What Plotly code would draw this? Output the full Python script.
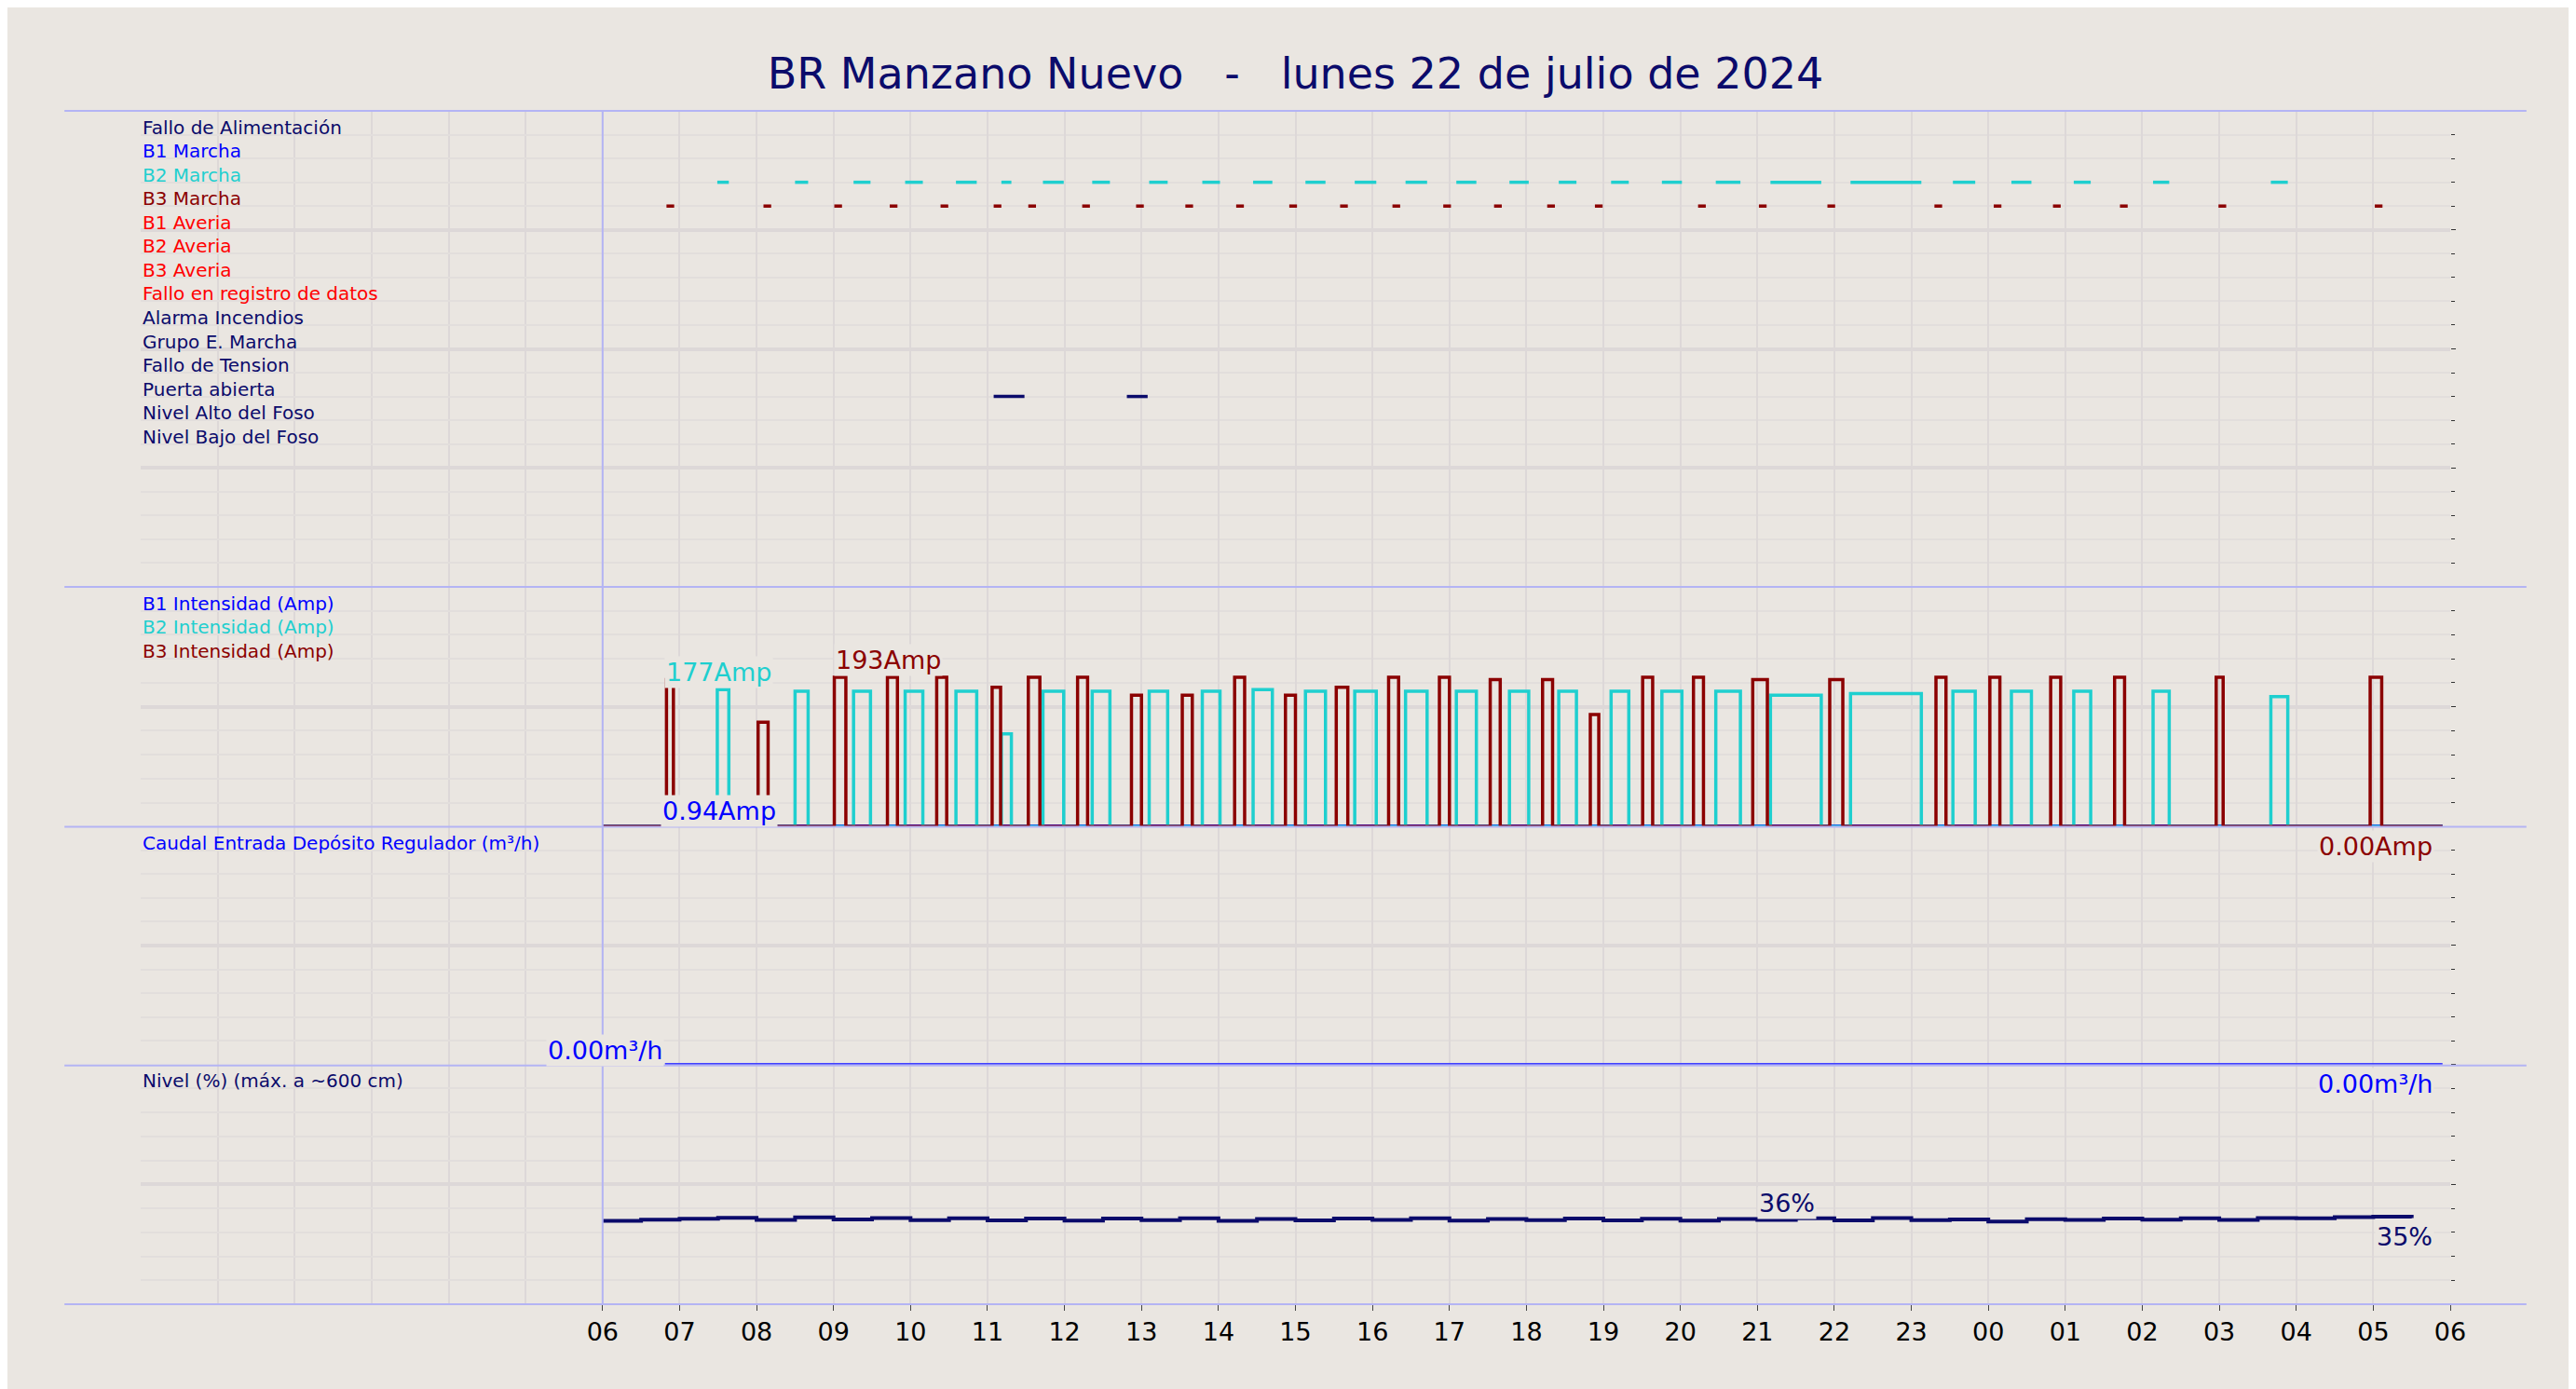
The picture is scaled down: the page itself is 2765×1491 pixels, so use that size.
import plotly.graph_objects as go
from plotly.subplots import make_subplots

NAVY = "#0B0B6B"
CYAN = "#1FCFCF"
DRED = "#8B0000"
BLUE = "#0000FF"
RED = "#FF0000"
BG = "#EAE6E1"

# senales digitales (horas desde las 00:00 del dia 22)
senales = ["Fallo de Alimentación", "B1 Marcha", "B2 Marcha", "B3 Marcha", "B1 Averia",
           "B2 Averia", "B3 Averia", "Fallo en registro de datos", "Alarma Incendios",
           "Grupo E. Marcha", "Fallo de Tension", "Puerta abierta", "Nivel Alto del Foso",
           "Nivel Bajo del Foso"]
colores_senal = [NAVY, BLUE, CYAN, DRED, RED, RED, RED, RED, NAVY, NAVY, NAVY, NAVY, NAVY, NAVY]

b2_on = [7.49, 8.50, 9.26, 9.93, 10.59, 11.18, 11.72, 12.36, 13.10, 13.79, 14.45, 15.13, 15.77,
         16.43, 17.09, 17.78, 18.42, 19.10, 19.76, 20.46, 21.17, 22.21, 23.54, 24.30, 25.11,
         26.14, 27.67]
b2_off = [7.64, 8.67, 9.48, 10.16, 10.86, 11.31, 11.99, 12.59, 13.34, 14.02, 14.70, 15.39, 16.05,
          16.71, 17.35, 18.03, 18.65, 19.33, 20.02, 20.78, 21.83, 23.13, 23.83, 24.56, 25.33,
          26.35, 27.89]
b2_amp = [177, 175, 175, 175, 175, 120, 175, 175, 175, 175, 177, 175, 175, 175, 175, 175,
          175, 175, 175, 175, 170, 172, 175, 175, 175, 175, 168]

b3_marcha = [6.83, 8.09, 9.01, 9.73, 10.39, 11.08, 11.53, 12.23, 12.93, 13.57, 14.23, 14.92,
             15.58, 16.26, 16.92, 17.58, 18.27, 18.89, 20.23, 21.02, 21.91, 23.30, 24.07, 24.84,
             25.71, 26.99, 29.02]
b3_on = [6.83, 8.02, 9.01, 9.70, 10.34, 11.06, 11.53, 12.17, 12.87, 13.53, 14.21, 14.87, 15.53,
         16.21, 16.87, 17.53, 18.21, 18.83, 19.51, 20.17, 20.94, 21.94, 23.32, 24.02, 24.81,
         25.64, 26.96, 28.96]
b3_off = [6.92, 8.15, 9.16, 9.83, 10.47, 11.17, 11.68, 12.30, 13.00, 13.66, 14.34, 15.00, 15.68,
          16.34, 17.00, 17.66, 18.34, 18.94, 19.64, 20.30, 21.13, 22.11, 23.45, 24.15, 24.94,
          25.77, 27.05, 29.11]
b3_amp = [190, 135, 193, 193, 193, 180, 193, 193, 170, 170, 193, 170, 180, 193, 193, 190,
          190, 145, 193, 193, 190, 190, 193, 193, 193, 193, 193, 193]

puerta_on = [11.08, 12.81]
puerta_off = [11.48, 13.08]

nivel_t = [6 + 0.5 * i for i in range(48)]
nivel = [34.8, 35.3, 35.7, 36.1, 35.2, 36.2, 35.4, 36.0, 35.1, 35.9, 35.0, 35.8, 34.9, 35.8,
         35.1, 35.9, 34.8, 35.6, 35.0, 35.8, 35.2, 35.9, 34.9, 35.6, 35.1, 35.8, 35.0, 35.7,
         34.9, 35.6, 35.2, 35.9, 35.0, 36.0, 35.1, 35.4, 34.5, 35.5, 35.2, 35.8, 35.3, 35.9,
         35.2, 36.0, 35.9, 36.3, 36.5, 36.0]

caudal_t = [6.81, 29.9]
caudal = [0.0, 0.0]

horas = list(range(6, 31))
ticktext = [f"{h % 24:02d}" for h in horas]


def pulsos(on, off, amp):
    xs, ys = [6.0], [0.0]
    for a, b, v in zip(on, off, amp):
        xs += [a, b]
        ys += [v, 0.0]
    xs.append(29.9)
    ys.append(0.0)
    return xs, ys


def marcas(on, off, y):
    xs, ys = [], []
    for a, b in zip(on, off):
        xs += [a, b, None]
        ys += [y, y, None]
    return xs, ys


fig = make_subplots(rows=4, cols=1, shared_xaxes=True, vertical_spacing=0,
                    row_heights=[290, 146, 145, 146])

# panel de senales
for i, (on, off, col) in enumerate([(b2_on, b2_off, CYAN),
                                    (b3_marcha, [t + 0.1 for t in b3_marcha], DRED),
                                    (puerta_on, puerta_off, NAVY)]):
    fila = [2, 3, 11][i]
    xs, ys = marcas(on, off, 20 - (fila + 1))
    fig.add_trace(go.Scatter(x=xs, y=ys, mode="lines", line=dict(color=col, width=3.5),
                             showlegend=False), row=1, col=1)

# intensidades
x2, y2 = pulsos(b2_on, b2_off, b2_amp)
x3, y3 = pulsos(b3_on, b3_off, b3_amp)
fig.add_trace(go.Scatter(x=[6, 29.9], y=[0.94, 0.94], mode="lines", line=dict(color=BLUE, width=3),
                         showlegend=False), row=2, col=1)
fig.add_trace(go.Scatter(x=x2, y=y2, mode="lines", line=dict(color=CYAN, width=3.5, shape="hv"),
                         showlegend=False), row=2, col=1)
fig.add_trace(go.Scatter(x=x3, y=y3, mode="lines", line=dict(color=DRED, width=3.5, shape="hv"),
                         showlegend=False), row=2, col=1)

# caudal
fig.add_trace(go.Scatter(x=caudal_t, y=caudal, mode="lines", line=dict(color="#4040FF", width=3.5),
                         showlegend=False), row=3, col=1)

# nivel
fig.add_trace(go.Scatter(x=nivel_t, y=nivel, mode="lines", line=dict(color=NAVY, width=4, shape="hv"),
                         showlegend=False), row=4, col=1)

rangos = [(0, 20, 5, 1), (0, 310, 155, 31), (0, 10, 5, 1), (0, 100, 50, 10)]
for r, (lo, hi, mj, mn) in enumerate(rangos, start=1):
    fig.update_yaxes(range=[lo, hi], dtick=mj, showticklabels=False, side="right",
                     showgrid=True, gridcolor="#DDD8D8", gridwidth=4, zeroline=False,
                     ticks="outside", ticklen=5, tickcolor="#333",
                     minor=dict(dtick=mn, showgrid=True, gridcolor="#E2DEDC", gridwidth=1.5,
                                ticks="outside", ticklen=4, tickcolor="#333"),
                     row=r, col=1)
    fig.update_xaxes(range=[0, 30], tickvals=horas, ticktext=ticktext, showgrid=True,
                     gridcolor="#DDD8D8", gridwidth=1.5, zeroline=False,
                     minor=dict(dtick=1, tick0=0, showgrid=True, gridcolor="#DDD8D8", gridwidth=1.5),
                     row=r, col=1)
fig.update_xaxes(ticks="outside", ticklen=6, tickfont=dict(size=27, color="black"), row=4, col=1)

# etiquetas
ann = []
for i, (s, c) in enumerate(zip(senales, colores_senal)):
    ann.append(dict(x=0, y=20 - (i + 0.69), xref="x", yref="y", text=s, showarrow=False,
                    xanchor="left", font=dict(size=20, color=c)))
for i, (s, c) in enumerate([("B1 Intensidad (Amp)", BLUE), ("B2 Intensidad (Amp)", CYAN),
                            ("B3 Intensidad (Amp)", DRED)]):
    ann.append(dict(x=0, y=310 - 31 * (i + 0.69), xref="x2", yref="y2", text=s, showarrow=False,
                    xanchor="left", font=dict(size=20, color=c)))
ann.append(dict(x=0, y=9.31, xref="x3", yref="y3", text="Caudal Entrada Depósito Regulador (m³/h)",
                showarrow=False, xanchor="left", font=dict(size=20, color=BLUE)))
ann.append(dict(x=0, y=93.1, xref="x4", yref="y4", text="Nivel (%) (máx. a ~600 cm)",
                showarrow=False, xanchor="left", font=dict(size=20, color=NAVY)))
valores = [("177Amp", 6.8, 200, CYAN, "x2", "y2", "left"),
           ("193Amp", 9.0, 215, DRED, "x2", "y2", "left"),
           ("0.94Amp", 6.75, 20, BLUE, "x2", "y2", "left"),
           ("0.00Amp", 29.8, 9.15, DRED, "x3", "y3", "right"),
           ("0.00m³/h", 6.8, 0.6, BLUE, "x3", "y3", "right"),
           ("0.00m³/h", 29.8, 91.8, BLUE, "x4", "y4", "right"),
           ("36%", 21.0, 42, NAVY, "x4", "y4", "left"),
           ("35%", 29.8, 28, NAVY, "x4", "y4", "right")]
for t, x, y, c, xr, yr, xa in valores:
    ann.append(dict(x=x, y=y, xref=xr, yref=yr, text=t, showarrow=False, xanchor=xa,
                    font=dict(size=27, color=c), bgcolor=BG))

# lineas separadoras
shapes = []
for yp in [1.0, 0.601, 0.4, 0.2, 0.0]:
    shapes.append(dict(type="line", xref="paper", yref="paper", x0=-0.033, x1=1.033, y0=yp, y1=yp,
                       line=dict(color="#B4B4F4", width=2)))
shapes.append(dict(type="line", xref="x", yref="paper", x0=6, x1=6, y0=0, y1=1,
                   line=dict(color="#B4B4F4", width=2)))

fig.update_layout(
    width=2765, height=1491,
    margin=dict(l=143, r=143, t=111, b=99),
    paper_bgcolor=BG, plot_bgcolor=BG,
    font=dict(family="DejaVu Sans"),
    title=dict(text="BR Manzano Nuevo   -   lunes 22 de julio de 2024", x=0.5, y=0.963,
               xanchor="center", font=dict(size=46, color=NAVY)),
    annotations=ann, shapes=shapes,
)

fig.write_html("out.html")
